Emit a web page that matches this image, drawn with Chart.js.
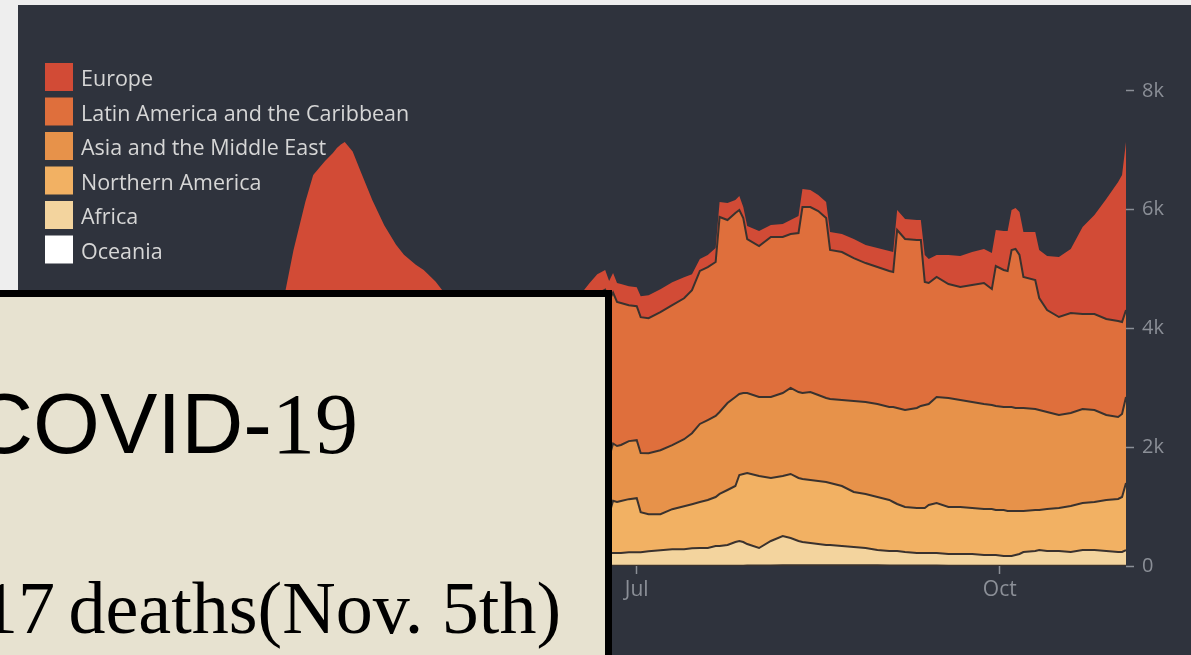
<!DOCTYPE html>
<html>
<head>
<meta charset="utf-8">
<script src="https://cdn.jsdelivr.net/npm/chart.js@4.4.0/dist/chart.umd.min.js"></script>
<style>
    html, body { margin: 0; padding: 0; width: 1191px; height: 655px; overflow: hidden; background: #eeeeee; }
    #panel { position: absolute; left: 18px; top: 5px; width: 1173px; height: 650px; background: #2f333d; }
    #chart { position: absolute; left: 0; top: 0; }
    #note {
        position: absolute; left: -20px; top: 290px; width: 632px; height: 420px;
        box-sizing: border-box; background: #e7e2d0;
        border-top: 7px solid #000; border-right: 7px solid #000;
    }
    .big { position: absolute; white-space: nowrap; line-height: 1; color: #000; }
    #title { left: -29px; top: 380px; font-size: 86px; font-family: "Liberation Sans", Arial, sans-serif; }
    #title .serif { font-family: "Liberation Serif", "Times New Roman", serif; }
    #count { left: -24px; top: 571px; font-size: 74px; font-family: "Liberation Serif", "Times New Roman", serif; }
    #count .lead { position: relative; left: 5px; }
</style>
</head>
<body>
<div id="panel"><canvas id="chart" width="1173" height="650"></canvas></div>
<div id="note"></div>
<div id="title" class="big">COVID-<span class="serif">19</span></div>
<div id="count" class="big"><span class="lead">17</span> deaths(Nov. 5th)</div>

<script>
// day of year 2020 (Jan 1 = 0), 7-day average deaths per region
const days = [30, 45, 60, 67, 74, 81, 86, 90, 93, 95, 98, 100, 103, 105, 106, 107, 108, 110, 112, 115,
    118, 121, 123, 126, 128, 131, 133, 136, 140, 145, 150, 155, 160, 165, 168, 170, 172, 174, 175, 176,
    177, 178, 180, 182, 183, 185, 188, 191, 194, 196, 198, 200, 202, 203, 205, 207, 208, 209, 210, 213,
    216, 219, 221, 223, 224, 226, 228, 230, 231, 234, 237, 240, 243, 246, 247, 248, 250, 253, 254, 255,
    256, 258, 261, 264, 267, 270, 272, 273, 275, 276, 277, 278, 279, 280, 283, 284, 286, 289, 292, 295,
    298, 301, 304, 305, 306];

const europe = [0, 0, 5, 30, 300, 1300, 2400, 3200, 3500, 3800, 4050, 4150, 4150, 4150, 4170, 4150, 4120, 3950, 3700, 3350,
    3050, 2800, 2650, 2450, 2300, 2100, 1980, 1780, 1550, 1250, 1000, 800, 650, 500, 440, 330, 330, 330, 330, 330,
    320, 320, 320, 320, 354, 387, 387, 387, 354, 269, 202, 202, 236, 253, 286, 219, 236, 185, 219, 253,
    202, 219, 236, 286, 303, 286, 269, 269, 303, 303, 320, 303, 320, 337, 337, 337, 337, 337, 337, 455,
    404, 370, 488, 522, 556, 573, 606, 606, 657, 674, 674, 690, 724, 758, 808, 808, 909, 1010, 1078, 1465,
    1667, 2021, 2341, 2475, 2829];

const latinAmerica = [0, 0, 0, 0, 1, 10, 30, 50, 80, 110, 180, 210, 250, 270, 280, 290, 300, 320, 340, 380,
    420, 470, 510, 570, 620, 680, 700, 760, 880, 1080, 1350, 1650, 1950, 2200, 2350, 2620, 2770, 2830, 2640, 2540,
    2425, 2391, 2290, 2257, 2290, 2273, 2324, 2358, 2374, 2408, 2577, 2577, 2593, 3284, 3082, 3099, 3099, 2947, 2593, 2543,
    2694, 2627, 2593, 2678, 3132, 3115, 3099, 3031, 2509, 2492, 2408, 2341, 2307, 2290, 2273, 2998, 2880, 2829, 2795, 2071,
    2038, 2021, 1920, 1903, 1970, 2038, 1953, 2358, 2307, 2290, 2644, 2678, 2577, 2206, 2172, 1886, 1718, 1650, 1684, 1600,
    1617, 1617, 1617, 1549, 1465];

const asiaMiddleEast = [40, 110, 60, 60, 80, 120, 160, 180, 190, 220, 250, 270, 280, 290, 275, 285, 285, 265, 250, 230,
    245, 245, 245, 230, 220, 215, 215, 230, 255, 310, 350, 470, 680, 830, 900, 950, 950, 960, 960, 965,
    943, 943, 977, 977, 994, 1027, 1078, 1078, 1128, 1196, 1314, 1347, 1364, 1381, 1465, 1499, 1364, 1364, 1347, 1330,
    1364, 1398, 1448, 1448, 1448, 1482, 1448, 1415, 1415, 1448, 1532, 1549, 1566, 1566, 1600, 1617, 1633, 1684, 1718, 1735,
    1701, 1785, 1836, 1802, 1785, 1768, 1751, 1751, 1735, 1751, 1751, 1735, 1735, 1735, 1701, 1684, 1633, 1566, 1566, 1583,
    1549, 1431, 1381, 1398, 1448];

const northernAmerica = [0, 0, 0, 2, 8, 60, 250, 500, 850, 1150, 1600, 1900, 2080, 2180, 2250, 2310, 2370, 2380, 2290, 2130,
    1950, 1820, 1760, 1750, 1770, 1720, 1650, 1600, 1560, 1450, 1300, 1100, 900, 780, 700, 650, 650, 650, 650, 880,
    859, 876, 893, 909, 674, 623, 606, 674, 724, 741, 775, 808, 825, 876, 926, 943, 1111, 1145, 1196, 1212,
    1061, 1010, 1078, 1061, 1061, 1061, 1061, 1061, 1044, 1010, 926, 909, 893, 859, 825, 791, 758, 758, 758, 758,
    808, 842, 791, 791, 775, 775, 775, 758, 775, 758, 758, 741, 724, 690, 690, 674, 707, 724, 775, 791,
    808, 859, 893, 926, 1128];

const africa = [0, 0, 0, 0, 1, 5, 10, 15, 25, 35, 45, 50, 55, 60, 60, 60, 60, 60, 65, 65,
    70, 70, 70, 70, 70, 70, 70, 75, 80, 85, 95, 120, 150, 180, 200, 210, 210, 210, 215, 215,
    216, 216, 230, 230, 230, 247, 263, 280, 280, 297, 300, 300, 332, 332, 349, 399, 416, 399, 362, 295,
    411, 493, 460, 409, 392, 373, 356, 340, 340, 323, 306, 291, 257, 243, 243, 243, 228, 211, 211, 211,
    211, 211, 196, 196, 196, 181, 181, 181, 165, 165, 165, 182, 199, 233, 250, 266, 250, 250, 233, 266,
    266, 250, 233, 233, 266];

const oceania = [0, 0, 0, 0, 0, 1, 2, 2, 3, 4, 5, 5, 5, 5, 5, 5, 5, 5, 5, 5,
    5, 5, 5, 5, 5, 5, 5, 5, 5, 5, 5, 3, 2, 2, 2, 3, 3, 3, 3, 3,
    3, 3, 3, 3, 3, 3, 3, 3, 3, 3, 3, 3, 5, 5, 5, 5, 5, 5, 8, 8,
    10, 12, 12, 12, 12, 14, 14, 14, 14, 14, 14, 12, 12, 10, 10, 10, 8, 8, 8, 8,
    8, 8, 6, 6, 6, 4, 4, 4, 3, 3, 3, 3, 3, 3, 3, 3, 3, 3, 3, 3,
    3, 3, 3, 3, 3];

const tickDays = [182, 274];
const tickLabels = ["Jul", "Oct"];
const yTicks = [0, 2000, 4000, 6000, 8000];

const COLORS = {
    europe: "#d24b36",
    latin: "#df6f3c",
    asia: "#e7924a",
    northAm: "#f2b163",
    africa: "#f3d49e",
    oceania: "#ffffff",
    edge: "#3a322e",
    tick: "#8b8f97",
    legend: "#d6d6d6",
};

function series(label, values, color, edge) {
    return {
        label,
        data: days.map((d, i) => ({ x: d, y: values[i] })),
        backgroundColor: color,
        borderColor: edge ? COLORS.edge : color,
        borderWidth: edge ? 2 : 0,
        fill: "origin",
        pointRadius: 0,
        tension: 0,
    };
}

// legend drawn inside the plot, top-left, top series first
const insideLegend = {
    id: "insideLegend",
    beforeDatasetsDraw(chart, args, opts) {
        const { ctx } = chart;
        const items = chart.data.datasets.slice().reverse();
        ctx.save();
        ctx.font = `${opts.fontSize}px ${opts.fontFamily}`;
        ctx.textBaseline = "middle";
        items.forEach((ds, i) => {
            const y = opts.top + i * opts.step;
            ctx.fillStyle = ds.backgroundColor;
            ctx.fillRect(opts.left, y, opts.box, opts.box);
            ctx.fillStyle = opts.color;
            ctx.fillText(ds.label, opts.left + opts.box + opts.gap, y + opts.box / 2 + 3);
        });
        ctx.restore();
    },
};

const ctx = document.getElementById("chart").getContext("2d");

new Chart(ctx, {
    type: "line",
    data: {
        datasets: [
            series("Oceania", oceania, COLORS.oceania, true),
            series("Africa", africa, COLORS.africa, true),
            series("Northern America", northernAmerica, COLORS.northAm, true),
            series("Asia and the Middle East", asiaMiddleEast, COLORS.asia, true),
            series("Latin America and the Caribbean", latinAmerica, COLORS.latin, true),
            series("Europe", europe, COLORS.europe, false),
        ],
    },
    plugins: [insideLegend],
    options: {
        responsive: false,
        animation: false,
        events: [],
        layout: { padding: { left: 19, top: 51, right: 0, bottom: 0 } },
        plugins: {
            tooltip: { enabled: false },
            legend: { display: false },
            insideLegend: {
                left: 27,
                top: 58,
                step: 34.5,
                box: 28,
                gap: 8,
                fontSize: 21.5,
                fontFamily: "'Open Sans', sans-serif",
                color: COLORS.legend,
            },
        },
        scales: {
            x: {
                type: "linear",
                min: days[0],
                max: days[days.length - 1],
                afterBuildTicks: (scale) => {
                    scale.ticks = tickDays.map((v) => ({ value: v }));
                },
                afterFit: (scale) => { scale.height = 89; },
                ticks: {
                    color: COLORS.tick,
                    font: { family: "'Open Sans', sans-serif", size: 21 },
                    padding: 3,
                    maxRotation: 0,
                    callback: (v) => tickLabels[tickDays.indexOf(v)] || "",
                },
                grid: { drawOnChartArea: false, tickLength: 8, tickColor: COLORS.tick, tickWidth: 1.5 },
                border: { display: false },
            },
            y: {
                position: "right",
                stacked: true,
                min: 0,
                max: 8589,
                afterBuildTicks: (scale) => {
                    scale.ticks = yTicks.map((v) => ({ value: v }));
                },
                afterFit: (scale) => { scale.width = 65; },
                ticks: {
                    color: COLORS.tick,
                    font: { family: "'Open Sans', sans-serif", size: 20 },
                    padding: 8,
                    callback: (v) => (v === 0 ? "0" : v / 1000 + "k"),
                },
                grid: { drawOnChartArea: false, tickLength: 8, tickColor: COLORS.tick, tickWidth: 1.5 },
                border: { display: false },
            },
        },
    },
});
</script>
</body>
</html>
